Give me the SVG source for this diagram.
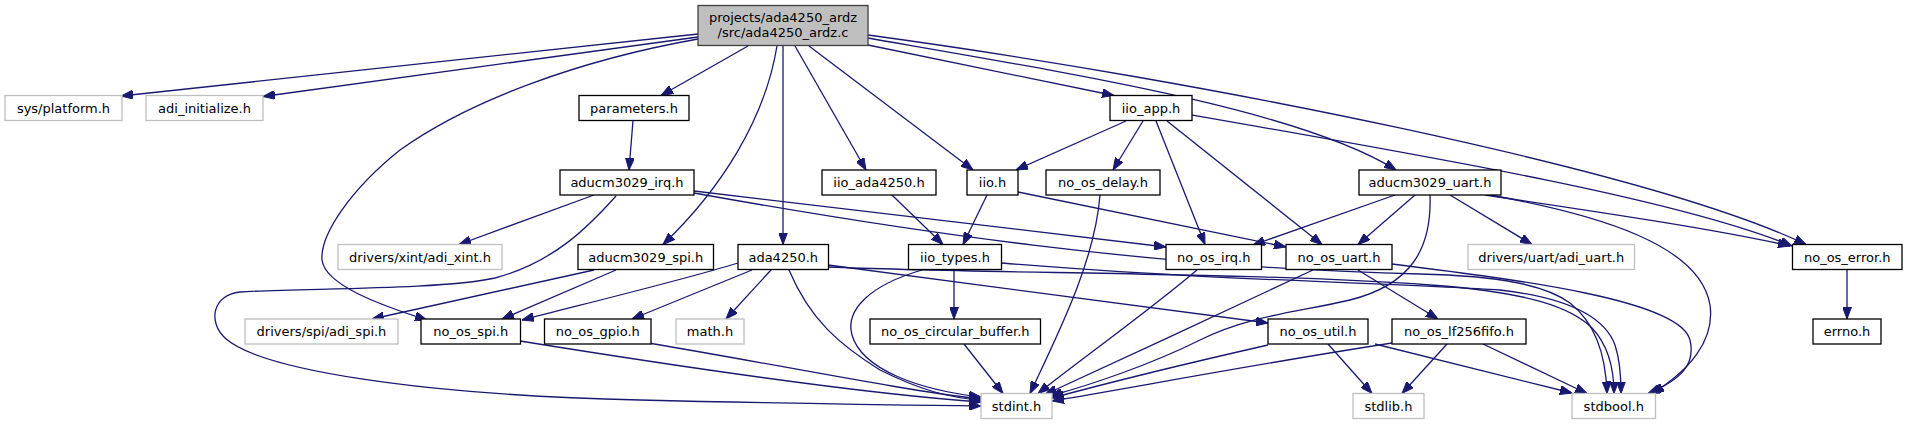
<svg xmlns="http://www.w3.org/2000/svg" width="1907" height="425" viewBox="0 0 1907 425">
<style>
rect{fill:#fff;stroke:#000;stroke-width:1.3}
.u rect{stroke:#bfbfbf}
.m rect{fill:#bfbfbf;stroke:#404040}
text{font-family:"DejaVu Sans",sans-serif;font-size:13px;text-anchor:middle;fill:#000}
#edges path{fill:none;stroke:#191970;stroke-width:1.3;marker-end:url(#a)}
</style>
<defs>
<marker id="a" viewBox="0 0 12 9" refX="12" refY="4.5" markerWidth="12" markerHeight="9" markerUnits="userSpaceOnUse" orient="auto">
<path d="M0,0L12,4.5L0,9z" fill="#191970" stroke="#191970" stroke-width="1"/>
</marker>
</defs>
<rect x="0" y="0" width="1907" height="425" style="fill:#fff;stroke:none"/>
<g id="edges">
<path d="M698,34L121,96"/>
<path d="M698,37L263,96.5"/>
<path d="M698,39C580,60 470,100 400,150C350,190 320,235 322,260C325,285 380,305 427,320"/>
<path d="M748,46L661,95.5"/>
<path d="M777,46C765,120 720,190 663,244.5"/>
<path d="M783,46L783,244.5"/>
<path d="M795,46L866,170"/>
<path d="M809,46L973,170"/>
<path d="M868,45L1114,95.5"/>
<path d="M868,38C1080,75 1300,110 1396,170"/>
<path d="M868,35C1200,80 1650,170 1806,244.5"/>
<path d="M633,120.5L629,170"/>
<path d="M594,195L459,244.5"/>
<path d="M616,196C590,225 555,262 495,278C440,290 300,288 240,292C212,295 208,322 225,338C260,370 420,395 640,400C800,404 900,405 981,406"/>
<path d="M694,191L1166,247"/>
<path d="M694,193C900,230 1150,268 1420,274C1500,276 1545,285 1570,303C1598,325 1606,360 1607,393.5"/>
<path d="M1126,121L1016,170"/>
<path d="M1143,121L1113,170"/>
<path d="M1156,121L1205,244.5"/>
<path d="M1167,121L1322,244.5"/>
<path d="M1192,115C1450,160 1680,200 1792,246"/>
<path d="M892,195L943,244.5"/>
<path d="M987,195L963,244.5"/>
<path d="M1018,192L1286,247"/>
<path d="M1100,195C1095,260 1060,330 1030,393.5"/>
<path d="M1395,195L1253,245"/>
<path d="M1415,195L1358,244.5"/>
<path d="M1430,195C1432,250 1410,285 1350,300C1300,312 1250,315 1200,340C1150,365 1090,385 1050,396"/>
<path d="M1450,195L1532,244.5"/>
<path d="M1490,195C1600,215 1700,245 1710,305C1715,340 1690,370 1652,393.5"/>
<path d="M1485,195C1600,212 1720,230 1790,246"/>
<path d="M594,270L372,319"/>
<path d="M616,270L502,319"/>
<path d="M738,263C690,278 600,300 522,320"/>
<path d="M752,270L632,319"/>
<path d="M771,270L726,319"/>
<path d="M789,270C810,320 840,345 880,370C920,390 950,398 981,400"/>
<path d="M828,265L1268,323"/>
<path d="M828,267C1000,274 1250,272 1430,285C1530,292 1572,308 1592,328C1608,345 1614,370 1614,393.5"/>
<path d="M954,270L954,319"/>
<path d="M922,270C870,285 845,310 852,335C862,370 920,390 981,397"/>
<path d="M1002,263C1200,280 1400,283 1500,290C1570,298 1605,318 1615,345C1620,360 1621,380 1621,393.5"/>
<path d="M1197,270C1150,310 1080,360 1038,393.5"/>
<path d="M1313,270C1250,300 1120,360 1045,394.5"/>
<path d="M1358,270L1438,319"/>
<path d="M1392,264C1520,280 1680,300 1690,340C1696,365 1680,380 1648,393.5"/>
<path d="M520,341C700,370 880,395 981,402"/>
<path d="M648,343C780,365 900,390 981,399"/>
<path d="M964,344L1003,393.5"/>
<path d="M1328,344L1372,393.5"/>
<path d="M1375,344L1572,393"/>
<path d="M1268,345C1180,365 1100,385 1052,398"/>
<path d="M1447,344L1402,393.5"/>
<path d="M1483,344L1587,393.5"/>
<path d="M1392,343C1250,365 1120,390 1052,401"/>
<path d="M1847,270L1847,319"/>
</g>
<g id="n0" class="m"><rect x="698" y="5.5" width="170" height="40"/><text x="783" y="21.5">projects/ada4250_ardz</text><text x="783" y="37">/src/ada4250_ardz.c</text></g>
<g id="n1" class="u"><rect x="5" y="95.5" width="117" height="25"/><text x="63.5" y="112.5">sys/platform.h</text></g>
<g id="n2" class="u"><rect x="146" y="95.5" width="117" height="25"/><text x="204.5" y="112.5">adi_initialize.h</text></g>
<g id="n3"><rect x="579" y="95.5" width="110" height="25"/><text x="634" y="112.5">parameters.h</text></g>
<g id="n4"><rect x="1110" y="95.5" width="82" height="25"/><text x="1151" y="112.5">iio_app.h</text></g>
<g id="n5"><rect x="560" y="170" width="134" height="25"/><text x="627" y="187">aducm3029_irq.h</text></g>
<g id="n6"><rect x="822" y="170" width="114" height="25"/><text x="879" y="187">iio_ada4250.h</text></g>
<g id="n7"><rect x="967" y="170" width="51" height="25"/><text x="992.5" y="187">iio.h</text></g>
<g id="n8"><rect x="1046" y="170" width="114" height="25"/><text x="1103" y="187">no_os_delay.h</text></g>
<g id="n9"><rect x="1359" y="170" width="142" height="25"/><text x="1430" y="187">aducm3029_uart.h</text></g>
<g id="n10" class="u"><rect x="338" y="244.5" width="164" height="25"/><text x="420" y="261.5">drivers/xint/adi_xint.h</text></g>
<g id="n11"><rect x="578" y="244.5" width="135.5" height="25"/><text x="645.75" y="261.5">aducm3029_spi.h</text></g>
<g id="n12"><rect x="738" y="244.5" width="90.5" height="25"/><text x="783.25" y="261.5">ada4250.h</text></g>
<g id="n13"><rect x="908.5" y="244.5" width="93" height="25"/><text x="955" y="261.5">iio_types.h</text></g>
<g id="n14"><rect x="1166" y="244.5" width="95.5" height="25"/><text x="1213.75" y="261.5">no_os_irq.h</text></g>
<g id="n15"><rect x="1286" y="244.5" width="106" height="25"/><text x="1339" y="261.5">no_os_uart.h</text></g>
<g id="n16" class="u"><rect x="1468" y="244.5" width="166.5" height="25"/><text x="1551.25" y="261.5">drivers/uart/adi_uart.h</text></g>
<g id="n17"><rect x="1792.5" y="244.5" width="109.5" height="25"/><text x="1847.25" y="261.5">no_os_error.h</text></g>
<g id="n18" class="u"><rect x="245" y="319" width="153" height="25"/><text x="321.5" y="336">drivers/spi/adi_spi.h</text></g>
<g id="n19"><rect x="421" y="319" width="99.5" height="25"/><text x="470.75" y="336">no_os_spi.h</text></g>
<g id="n20"><rect x="544.5" y="319" width="106.5" height="25"/><text x="597.75" y="336">no_os_gpio.h</text></g>
<g id="n21" class="u"><rect x="676" y="319" width="68" height="25"/><text x="710" y="336">math.h</text></g>
<g id="n22"><rect x="870" y="319" width="170.5" height="25"/><text x="955.25" y="336">no_os_circular_buffer.h</text></g>
<g id="n23"><rect x="1268" y="319" width="100" height="25"/><text x="1318" y="336">no_os_util.h</text></g>
<g id="n24"><rect x="1392" y="319" width="134" height="25"/><text x="1459" y="336">no_os_lf256fifo.h</text></g>
<g id="n25"><rect x="1813" y="319" width="68" height="25"/><text x="1847" y="336">errno.h</text></g>
<g id="n26" class="u"><rect x="981" y="393.5" width="71" height="25"/><text x="1016.5" y="410.5">stdint.h</text></g>
<g id="n27" class="u"><rect x="1353" y="393.5" width="71" height="25"/><text x="1388.5" y="410.5">stdlib.h</text></g>
<g id="n28" class="u"><rect x="1572" y="393.5" width="83.5" height="25"/><text x="1613.75" y="410.5">stdbool.h</text></g>
</svg>
